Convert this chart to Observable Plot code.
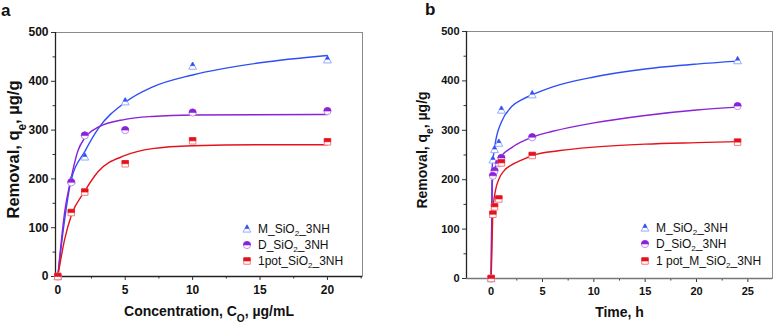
<!DOCTYPE html>
<html><head><meta charset="utf-8">
<script src="https://cdn.jsdelivr.net/npm/d3@7"></script>
<script src="https://cdn.jsdelivr.net/npm/@observablehq/plot@0.6"></script>
<style>
body{margin:0;background:#fff;font-family:"Liberation Sans",Arial,sans-serif;}
#wrap{position:relative;width:774px;height:324px;display:flex;overflow:hidden}
.panel{position:relative;width:387px;height:324px}
.tag{position:absolute;font-weight:bold;font-size:17px;color:#111;line-height:1}
.lg{position:absolute;font-size:12px;color:#111;white-space:nowrap;line-height:16px;height:16px;display:flex;align-items:center}
.lg svg{margin-right:6px}
.lg sub{font-size:8px;vertical-align:-3px;line-height:0}
</style></head><body><div id="wrap"></div>
<script>
// ---------- data: panel a (isotherm) ----------
const concA = [0, 1, 2, 5, 10, 20];
const mA = [0, 197, 245, 358, 431, 444];
const dA = [0, 193, 289, 300, 336, 339];
const pA = [0, 131, 173, 231, 278, 276];
// fitted curves
const fitAxM = [0, 0.5, 1, 2, 3, 5, 7, 10, 15, 20];
const fitAyM = [0, 115, 199, 256, 303, 357, 388, 413, 438, 453];
const fitAxD = [0, 0.5, 1, 1.5, 2, 3, 5, 7, 10, 20];
const fitAyD = [0, 130, 203, 258, 284, 306, 322, 328, 331, 332];
const fitAxP = [0, 0.5, 1, 2, 3, 5, 7, 10, 15, 20];
const fitAyP = [0, 75, 125, 175, 215, 248, 262, 268, 270, 270];
// ---------- data: panel b (kinetics) ----------
const timeB = [0, 0.17, 0.33, 0.75, 1, 4, 24];
const mB = [0, 240, 261, 274, 341, 372, 441];
const dB = [0, 208, 218, 233, 244, 286, 349];
const pB = [0, 130, 145, 161, 234, 249, 276];
const fitBxM = [0, 0.1, 0.25, 0.5, 1, 2, 3, 4, 6, 10, 15, 20, 24];
const fitByM = [0, 225, 252, 285, 317, 348, 362, 372, 388, 408, 424, 434, 440];
const fitBxD = [0, 0.1, 0.2, 0.5, 1, 2, 4, 6, 10, 15, 20, 24];
const fitByD = [0, 190, 212, 230, 248, 265, 286, 298, 315, 330, 341, 347];
const fitBxP = [0, 0.12, 0.17, 0.42, 0.75, 1.25, 2, 3, 4, 6.7, 10, 15, 20, 24];
const fitByP = [0, 100, 137, 178, 201, 218, 230, 240, 249, 259, 266, 272, 275, 277];

const seriesNamesA = ["M_SiO_{2}_3NH", "D_SiO_{2}_3NH", "1pot_SiO_{2}_3NH"];
const seriesNamesB = ["M_SiO_{2}_3NH", "D_SiO_{2}_3NH", "1 pot_M_SiO_{2}_3NH"];
const yTicks = [0, 100, 200, 300, 400, 500];
const yMinor = [50, 150, 250, 350, 450];
const xTicksA = [0, 5, 10, 15, 20];
const xMinorA = [2.5, 7.5, 12.5, 17.5, 22.5];
const xTicksB = [0, 5, 10, 15, 20, 25];
const xMinorB = [2.5, 7.5, 12.5, 17.5, 22.5];

// ---------- styles ----------
const dark = ["#2f4ff5", "#8a22d8", "#e5121b"];
const light = ["#9aa9ff", "#c390ef", "#f47c80"];
const FONT = '"Liberation Sans", Arial, sans-serif';

// custom half-filled symbols
const rr = s => Math.sqrt(s / Math.PI);
const triFull = {draw(c, s){const r=rr(s)*1.15; c.moveTo(0,-r); c.lineTo(r*0.95,r*0.75); c.lineTo(-r*0.95,r*0.75); c.closePath();}};
const triHalf = {draw(c, s){const r=rr(s)*1.15; const m=(-r+r*0.75)/2; c.moveTo(0,-r); c.lineTo(r*0.95/2,m); c.lineTo(-r*0.95/2,m); c.closePath();}};
const cirFull = {draw(c, s){const r=rr(s); c.moveTo(r,0); c.arc(0,0,r,0,2*Math.PI); c.closePath();}};
const cirHalf = {draw(c, s){const r=rr(s); c.moveTo(-r,0); c.arc(0,0,r,Math.PI,2*Math.PI); c.closePath();}};
const sqFull = {draw(c, s){const r=rr(s)*0.9; c.rect(-r,-r,2*r,2*r);}};
const sqHalf = {draw(c, s){const r=rr(s)*0.9; c.rect(-r,-r,2*r,r);}};
const fullSyms = [triFull, cirFull, sqFull];
const halfSyms = [triHalf, cirHalf, sqHalf];

function rows(xs, ys){ return xs.map((x,i)=>({x, y: ys[i]})); }

function subify(svg){
  const ns = "http://www.w3.org/2000/svg";
  svg.querySelectorAll("text").forEach(t => {
    if (t.querySelector("tspan")) { t.querySelectorAll("tspan").forEach(ts=>fix(ts)); return; }
    fix(t);
  });
  function fix(t){
    const s = t.textContent;
    if (!s.includes("_{")) return;
    const parts = s.split(/(_\{[^}]*\})/).filter(p=>p.length);
    t.textContent = "";
    parts.forEach(p => {
      const ts = document.createElementNS(ns, "tspan");
      if (p.startsWith("_{")) { ts.textContent = p.slice(2,-1); ts.setAttribute("baseline-shift","sub"); ts.setAttribute("font-size","72%"); }
      else ts.textContent = p;
      t.appendChild(ts);
    });
  }
}

function panel(opt){
  const {marginLeft, marginRight, marginTop, marginBottom, xDomain, xTicks, xMinor, pts, fits,
         xLabel, yLabel, yLabelSize, yLabelDx, tickFont, bottomAxisColor, xLabelDy} = opt;
  const marks = [
    Plot.frame({stroke:"#8a8a8a", strokeWidth:1}),
    Plot.axisY({ticks: yTicks, tickSize: 4, tickPadding: 3, fontSize: tickFont, fontWeight:"bold", label:null, stroke:"#333"}),
    Plot.axisY({ticks: yMinor, tickSize: 2.5, tickFormat: () => "", label:null, stroke:"#333"}),
    Plot.axisX({ticks: xTicks, tickSize: 4, tickPadding: 5, fontSize: tickFont, fontWeight:"bold", label:null, stroke:"#333"}),
    Plot.axisX({ticks: xMinor, tickSize: 2.5, tickFormat: () => "", label:null, stroke:"#333"}),
    Plot.ruleX([xDomain[0]], {stroke:"#222", strokeWidth:1.3}),
    Plot.ruleY([yTicks[0]], {stroke: bottomAxisColor, strokeWidth:1.3}),
    Plot.text([yLabel], {frameAnchor:"left", textAnchor:"middle", rotate:-90, dx: yLabelDx, dy:-5, fontSize:yLabelSize, fontWeight:"bold", fill:"#111"}),
    Plot.text([xLabel], {frameAnchor:"bottom", lineAnchor:"middle", dy: xLabelDy, fontSize:14, fontWeight:"bold", fill:"#111"})
  ];
  fits.forEach((f,i) => marks.push(Plot.line(f, {x:"x", y:"y", curve:"monotone-x", stroke: dark[i], strokeWidth:1.4})));
  pts.forEach((p,i) => {
    marks.push(Plot.dot(p, {x:"x", y:"y", symbol: fullSyms[i], r:3.6, fill:"white", stroke: light[i], strokeWidth:1}));
    marks.push(Plot.dot(p, {x:"x", y:"y", symbol: halfSyms[i], r:3.6, fill: dark[i], stroke: dark[i], strokeWidth:0.6}));
  });
  const svg = Plot.plot({
    width: 387, height: 324, marginLeft, marginRight, marginTop, marginBottom,
    x: {domain: xDomain}, y: {domain: [0, 500]},
    style: {fontFamily: FONT, color: "#111", background: "white", overflow: "visible"},
    marks
  });
  subify(svg);
  return svg;
}

function legend(div, names, left, tops){
  names.forEach((n,i) => {
    const row = document.createElement("div");
    row.className = "lg";
    row.style.left = left + "px";
    row.style.top = (tops[i] - 8) + "px";
    const size = 3.6 * 3.6 * Math.PI;
    const s = d3.create("svg").attr("width", 10).attr("height", 10);
    const g = s.append("g").attr("transform", "translate(5,5)");
    g.append("path").attr("d", d3.symbol(fullSyms[i], size)()).attr("fill","white").attr("stroke", light[i]);
    g.append("path").attr("d", d3.symbol(halfSyms[i], size)()).attr("fill", dark[i]).attr("stroke", dark[i]).attr("stroke-width",0.6);
    row.appendChild(s.node());
    const sp = document.createElement("span");
    sp.innerHTML = n.replace(/_\{([^}]*)\}/g, "<sub>$1</sub>");
    row.appendChild(sp);
    div.appendChild(row);
  });
}

const wrap = document.getElementById("wrap");

// panel a
const pa = document.createElement("div"); pa.className = "panel";
pa.appendChild(panel({
  marginLeft: 55, marginRight: 25, marginTop: 32, marginBottom: 48,
  xDomain: [-0.17, 22.6], xTicks: xTicksA, xMinor: xMinorA,
  pts: [rows(concA, mA), rows(concA, dA), rows(concA, pA)],
  fits: [rows(fitAxM, fitAyM), rows(fitAxD, fitAyD), rows(fitAxP, fitAyP)],
  xLabel: "Concentration, C_{O}, µg/mL", yLabel: "Removal, q_{e}, µg/g", yLabelSize: 16.5, yLabelDx: -42,
  tickFont: 12, bottomAxisColor: "#222", xLabelDy: 35
}));
const ta = document.createElement("div"); ta.className = "tag"; ta.textContent = "a"; ta.style.left = "1px"; ta.style.top = "2px"; pa.appendChild(ta);
legend(pa, seriesNamesA, 242, [229, 245, 261]);
wrap.appendChild(pa);

// panel b
const pb = document.createElement("div"); pb.className = "panel";
pb.appendChild(panel({
  marginLeft: 79, marginRight: 2, marginTop: 31, marginBottom: 46,
  xDomain: [-2.4, 27.4], xTicks: xTicksB, xMinor: xMinorB,
  pts: [rows(timeB, mB), rows(timeB, dB), rows(timeB, pB)],
  fits: [rows(fitBxM, fitByM), rows(fitBxD, fitByD), rows(fitBxP, fitByP)],
  xLabel: "Time, h", yLabel: "Removal, q_{e}, µg/g", yLabelSize: 14, yLabelDx: -44,
  tickFont: 11, bottomAxisColor: "#777", xLabelDy: 34
}));
const tb = document.createElement("div"); tb.className = "tag"; tb.textContent = "b"; tb.style.left = "38px"; tb.style.top = "1px"; pb.appendChild(tb);
legend(pb, seriesNamesB, 253, [228, 244, 261]);
wrap.appendChild(pb);
</script>
</body></html>
